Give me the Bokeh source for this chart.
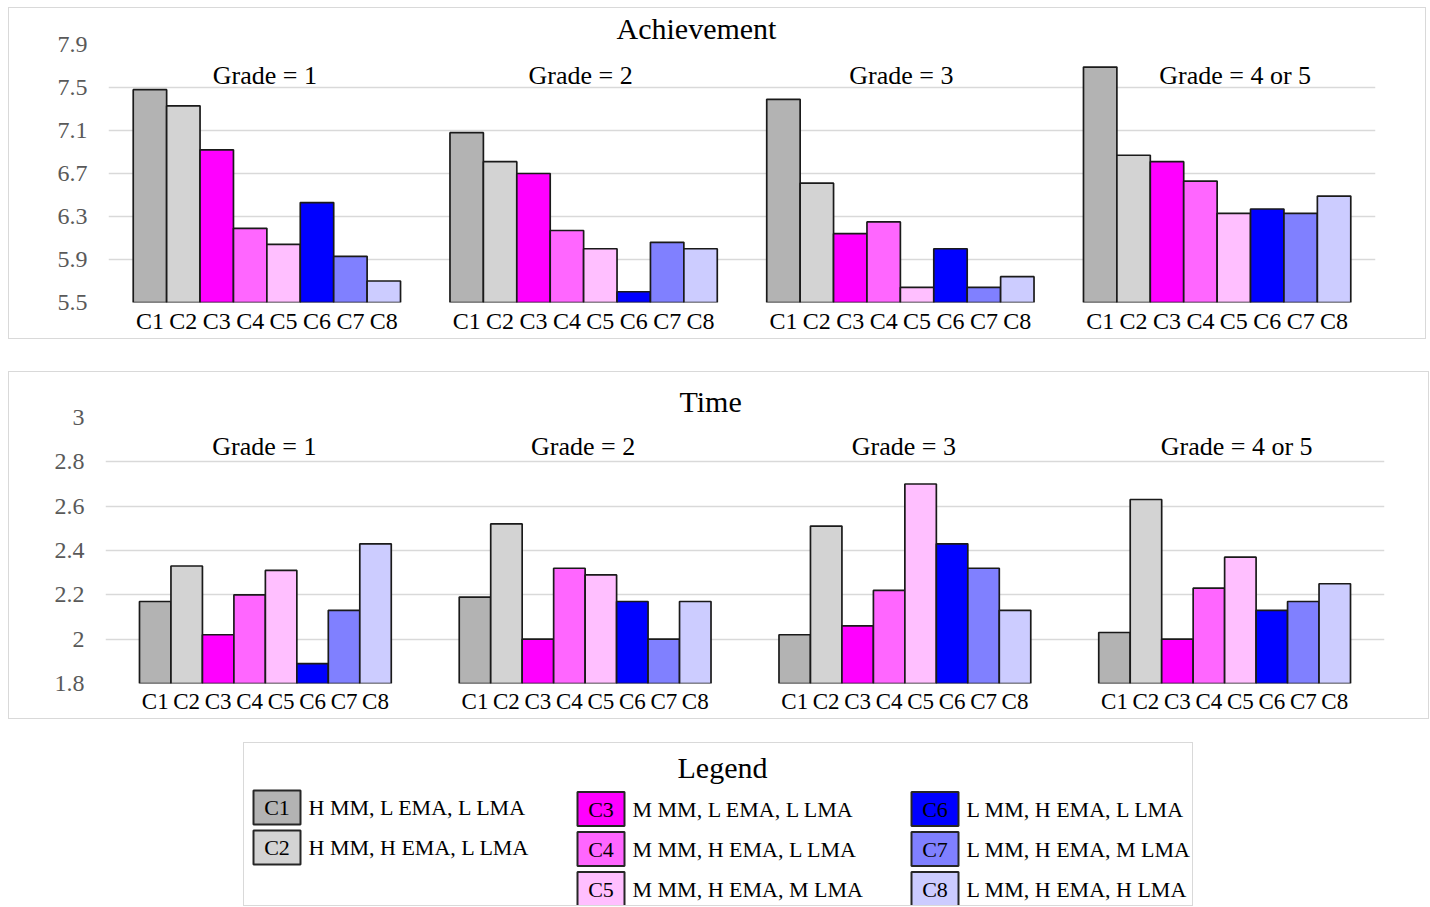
from bokeh.plotting import figure
from bokeh.models import Range1d, FixedTicker, CustomJSTickFormatter, ColumnDataSource
from bokeh.core.properties import value
from bokeh.embed import file_html
from bokeh.resources import INLINE

# ---------------- data ----------------
groups = ["Grade = 1", "Grade = 2", "Grade = 3", "Grade = 4 or 5"]
conditions = ["C1", "C2", "C3", "C4", "C5", "C6", "C7", "C8"]
colors = ["#b3b3b3", "#d3d3d3", "#ff00ff", "#ff66ff", "#ffbfff", "#0000ff", "#8080ff", "#ccccff"]
descriptions = [
    "H MM, L EMA, L LMA",
    "H MM, H EMA, L LMA",
    "M MM, L EMA, L LMA",
    "M MM, H EMA, L LMA",
    "M MM, H EMA, M LMA",
    "L MM, H EMA, L LMA",
    "L MM, H EMA, M LMA",
    "L MM, H EMA, H LMA",
]

ach_g1 = [7.48, 7.33, 6.92, 6.19, 6.04, 6.43, 5.93, 5.70]
ach_g2 = [7.08, 6.81, 6.70, 6.17, 6.00, 5.60, 6.06, 6.00]
ach_g3 = [7.39, 6.61, 6.14, 6.25, 5.64, 6.00, 5.64, 5.74]
ach_g4 = [7.69, 6.87, 6.81, 6.63, 6.33, 6.37, 6.33, 6.49]

time_g1 = [2.17, 2.33, 2.02, 2.20, 2.31, 1.89, 2.13, 2.43]
time_g2 = [2.19, 2.52, 2.00, 2.32, 2.29, 2.17, 2.00, 2.17]
time_g3 = [2.02, 2.51, 2.06, 2.22, 2.70, 2.43, 2.32, 2.13]
time_g4 = [2.03, 2.63, 2.00, 2.23, 2.37, 2.13, 2.17, 2.25]

ach_ticks = [5.5, 5.9, 6.3, 6.7, 7.1, 7.5, 7.9]
time_ticks = [1.8, 2.0, 2.2, 2.4, 2.6, 2.8, 3.0]

FONT = "Liberation Serif"
GRID = "#d9d9d9"
BORDER = "1.5px solid #d9d9d9"


def make_panel(title, series, ticks, width, height, borders, gap, title_offset,
               label_y, label_dx, tick_size, label_standoff):
    n = len(conditions)
    pad = gap / 2.0
    xs, tops, cols, labs = [], [], [], []
    centers = []
    for g, vals in enumerate(series):
        start = pad + g * (n + gap)
        centers.append(start + n / 2.0)
        for i, v in enumerate(vals):
            xs.append(start + i + 0.5)
            tops.append(v)
            cols.append(colors[i])
            labs.append(conditions[i])
    total = len(series) * n + (len(series) - 1) * gap + 2 * pad

    p = figure(width=width, height=height, output_backend="svg", toolbar_location=None,
               x_range=Range1d(0, total), y_range=Range1d(ticks[0], ticks[-1]),
               min_border_left=borders[0], min_border_right=borders[1],
               min_border_top=borders[2], min_border_bottom=borders[3])
    p.title.text = title
    p.title.text_font = FONT
    p.title.text_font_size = "30px"
    p.title.text_font_style = "normal"
    p.title.text_color = "#000000"
    p.title.align = "left"
    p.title.offset = title_offset
    p.title.standoff = 0
    p.outline_line_color = None
    p.background_fill_color = "white"
    p.border_fill_color = "white"
    p.styles = {"border": BORDER}

    src = ColumnDataSource(dict(x=xs, top=tops, color=cols, label=labs))
    p.vbar(x="x", top="top", bottom=ticks[0], width=1, source=src,
           fill_color="color", line_color="#1a1a1a", line_width=1.7)

    lsrc = ColumnDataSource(dict(x=centers, y=[label_y] * len(centers), text=groups, dx=label_dx))
    p.text(x="x", y="y", text="text", x_offset="dx", source=lsrc,
           text_font=value(FONT), text_font_size="26px", text_align="center",
           text_baseline="middle", text_color="#000000")

    p.xgrid.visible = False
    p.ygrid.grid_line_color = GRID
    p.ygrid.grid_line_width = 1.5
    p.ygrid.ticker = FixedTicker(ticks=ticks)

    p.yaxis.ticker = FixedTicker(ticks=ticks)
    p.yaxis.formatter = CustomJSTickFormatter(
        code="return Number.isInteger(tick) ? tick.toFixed(0) : tick.toFixed(1);")
    p.yaxis.major_label_text_font = FONT
    p.yaxis.major_label_text_font_size = "24px"
    p.yaxis.major_label_text_color = "#595959"
    p.yaxis.major_label_standoff = 21

    p.xaxis.ticker = FixedTicker(ticks=xs)
    p.xaxis.formatter = CustomJSTickFormatter(args=dict(names=labs), code="return names[index];")
    p.xaxis.major_label_text_font = FONT
    p.xaxis.major_label_text_font_size = tick_size
    p.xaxis.major_label_text_color = "#000000"
    p.xaxis.major_label_standoff = label_standoff

    for ax in (p.xaxis, p.yaxis):
        ax.axis_line_color = None
        ax.major_tick_line_color = None
        ax.minor_tick_line_color = None
        ax.major_tick_out = 0
        ax.major_tick_in = 0
        ax.minor_tick_out = 0
    return p


p1 = make_panel("Achievement", [ach_g1, ach_g2, ach_g3, ach_g4], ach_ticks,
                1418, 332, (99, 52, 36, 38), 1.48, 508, 7.61, [-2, -3, 1, 18], "24px", 5)
p1.margin = (7, 0, 0, 8)
p2 = make_panel("Time", [time_g1, time_g2, time_g3, time_g4], time_ticks,
                1421, 348, (96, 46, 45, 37), 2.16, 574, 2.867, [-1, -2, -1, 12], "23px", 5)
p2.margin = (32, 0, 0, 8)

# ---------------- legend ----------------
LW, LH = 950, 164
lg = figure(width=LW, height=LH, output_backend="svg", toolbar_location=None,
            x_range=Range1d(0, LW), y_range=Range1d(LH, 0),
            x_axis_type=None, y_axis_type=None, min_border=0)
lg.grid.visible = False
lg.outline_line_color = None
lg.background_fill_color = "white"
lg.border_fill_color = "white"
lg.styles = {"border": BORDER}
lg.margin = (23, 0, 0, 243)

legend_columns = [[0, 1], [2, 3, 4], [5, 6, 7]]
col_left = [9, 333, 667]
sw_w, sw_h = 47, 34
row_y0, row_step = 65.5, 40
sx, sy, sc, sl, tx, ty, tt = [], [], [], [], [], [], []
for c, idxs in enumerate(legend_columns):
    for r, k in enumerate(idxs):
        cy = row_y0 + r * row_step - (1.5 if c == 0 else 0)
        sx.append(col_left[c] + sw_w / 2)
        sy.append(cy)
        sc.append(colors[k])
        sl.append(conditions[k])
        tx.append(col_left[c] + sw_w + 8)
        ty.append(cy)
        tt.append(descriptions[k])

lg.rect(x=sx, y=sy, width=sw_w, height=sw_h, fill_color=sc, line_color="#262626", line_width=2)
lg.text(x=sx, y=sy, text=sl, text_font=value(FONT), text_font_size="22px",
        text_align="center", text_baseline="middle", text_color="#000000")
lg.text(x=tx, y=ty, text=tt, text_font=value(FONT), text_font_size="22px",
        text_align="left", text_baseline="middle", text_color="#000000")
lg.text(x=[LW / 2 + 3], y=[24], text=["Legend"], text_font=value(FONT), text_font_size="30px",
        text_align="center", text_baseline="middle", text_color="#000000")

open("out.html", "w").write(file_html([p1, p2, lg], INLINE))
